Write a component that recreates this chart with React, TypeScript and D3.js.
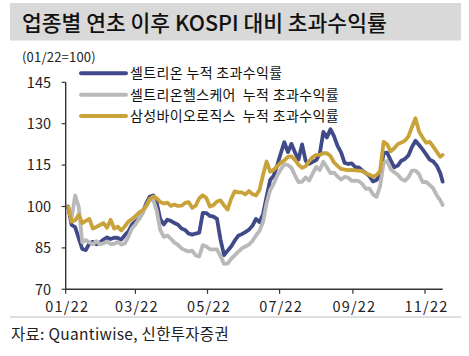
import React from 'react';
import * as d3 from 'd3';

const dates = [
  "2022-01-03","2022-01-06","2022-01-09","2022-01-12","2022-01-15","2022-01-18","2022-01-21","2022-01-24","2022-01-27","2022-01-30",
  "2022-02-02","2022-02-05","2022-02-08","2022-02-11","2022-02-14","2022-02-17","2022-02-20","2022-02-23","2022-02-26",
  "2022-03-01","2022-03-04","2022-03-07","2022-03-10","2022-03-13","2022-03-16","2022-03-19","2022-03-22","2022-03-25","2022-03-28","2022-03-31",
  "2022-04-03","2022-04-06","2022-04-09","2022-04-12","2022-04-15","2022-04-18","2022-04-21","2022-04-24","2022-04-27","2022-04-30",
  "2022-05-03","2022-05-06","2022-05-09","2022-05-12","2022-05-15","2022-05-18","2022-05-21","2022-05-24","2022-05-27","2022-05-30",
  "2022-06-02","2022-06-05","2022-06-08","2022-06-11","2022-06-14","2022-06-17","2022-06-20","2022-06-23","2022-06-26","2022-06-29",
  "2022-07-02","2022-07-05","2022-07-08","2022-07-11","2022-07-14","2022-07-17","2022-07-20","2022-07-23","2022-07-26","2022-07-29",
  "2022-08-01","2022-08-04","2022-08-07","2022-08-10","2022-08-13","2022-08-16","2022-08-19","2022-08-22","2022-08-25","2022-08-28","2022-08-31",
  "2022-09-03","2022-09-06","2022-09-09","2022-09-12","2022-09-15","2022-09-18","2022-09-21","2022-09-24","2022-09-27","2022-09-30",
  "2022-10-03","2022-10-06","2022-10-09","2022-10-12","2022-10-15","2022-10-18","2022-10-21","2022-10-24","2022-10-27","2022-10-30",
  "2022-11-02","2022-11-05","2022-11-08","2022-11-11","2022-11-14","2022-11-16",
];

const celltrion = [
  100, 93.3, 92.5, 88.5, 84.6, 84.2, 86.6, 87.2, 86.3, 87,
  88, 88.8, 88.2, 88.7, 88.6, 88, 89.6, 90.9, 93.4,
  94.6, 95.6, 97.7, 101, 103.5, 104, 101.4, 95.5, 93.5, 95.2, 94.8,
  94, 93.4, 92, 91.5, 90.2, 89.8, 90.2, 90.5, 97.7, 97.6,
  96.6, 96.3, 95.5, 88, 82.4, 84, 85.5, 87.6, 89.4, 90,
  90.7, 91.6, 93, 95.5, 94.3, 97.3, 103.6, 109.6, 111.2, 115,
  119.3, 123.3, 119.7, 122.7, 119.6, 117, 122.5, 116.6, 115.5, 116.2,
  116.8, 119.2, 127, 125, 128, 125.5, 122, 119.6, 115.8, 115.4, 115.6,
  114.3, 114.2, 113, 112.1, 111, 109.1, 109.6, 111.6, 119.4, 119.5,
  116.7, 114.2, 114.8, 116.6, 117.2, 118.5, 121.6, 123.8, 122.3, 120.7,
  118.9, 117, 116.3, 114.8, 112, 109,
];

const healthcare = [
  100, 95.7, 104, 100, 87, 87.8, 87, 86.3, 87.4, 86.3,
  86.7, 87.3, 86.4, 86.5, 87.2, 86.2, 86.6, 89, 92,
  93.5, 95.5, 97.9, 100.1, 102.2, 102.5, 98.5, 91.5, 89, 89.5, 88.3,
  86.9, 86.1, 84.8, 84.2, 83.7, 84, 82.3, 81.9, 86, 85.5,
  84.5, 84.5, 84.5, 82, 79.2, 79.3, 81, 82.3, 83.6, 84.8,
  85.5, 86.2, 87.5, 89.5, 91.2, 94.5, 101.2, 106, 108.2, 111.2,
  113.4, 115.3, 115, 114, 111.3, 108.8, 109, 110.5, 109.4, 112,
  114.3, 113.2, 116.2, 114.2, 112.1, 112.3, 110.9, 109.8, 110.7, 110.5, 109.3,
  109.4, 109.2, 108.1, 106.4, 106.5, 104.4, 103.5, 107.3, 115.8, 116.5,
  113.5, 112.4, 111.5, 110, 109.3, 110.6, 113, 113, 111.7, 108.8,
  108.9, 107.8, 106.6, 104, 102.2, 100.5,
];

const samsungBio = [
  100, 94.5, 95, 97, 94, 94.8, 95.5, 92, 92.6, 93.3,
  94, 92.3, 95.2, 92, 92.7, 91.3, 92.8, 94.5, 95.4,
  96.5, 97.8, 98.6, 100.2, 102.7, 103.6, 103, 101.6, 101.1, 101.4, 100.2,
  100.7, 100.2, 100.3, 101.3, 101.6, 99.5, 100.3, 103, 104.1, 103.1,
  100, 100.5, 101.8, 102.2, 100.4, 98.9, 102.8, 105.5, 105.1, 105.1,
  104.4, 105.6, 104.5, 104, 106, 111.5, 116.3, 112.6, 113.3, 114.6,
  115.9, 116.7, 118, 118.2, 116.9, 115.2, 114, 114.6, 116.5, 117.9,
  118.7, 118.7, 119.3, 119.3, 118.3, 116, 114.7, 113.6, 113.4, 113.2, 113.3,
  113.1, 113, 112.8, 112.1, 111.5, 110.8, 111.4, 112.8, 123.4, 122.5,
  120, 121.1, 122.6, 123.2, 123.8, 125.4, 128.8, 132, 127.2, 125,
  123.1, 123.4, 121.7, 119.8, 118, 118.7,
];

const seriesNames = [
  "셀트리온 누적 초과수익률",
  "셀트리온헬스케어  누적 초과수익률",
  "삼성바이오로직스  누적 초과수익률",
];
const seriesColors = ["#404a88", "#b9b9b9", "#c9a23a"];

const yTicks = [70, 85, 100, 115, 130, 145];
const xTickDates = ["2022-01-01", "2022-03-01", "2022-05-01", "2022-07-01", "2022-09-01", "2022-11-01"];
const xDomain = ["2022-01-01", "2022-11-16"];

const titleText = "업종별 연초 이후 KOSPI 대비 초과수익률";
const unitText = "(01/22=100)";
const sourceText = "자료: Quantiwise, 신한투자증권";

const FONT = "'Noto Sans CJK KR', 'Noto Sans', sans-serif";

export default function App() {
  const W = 469, H = 356;
  const parse = d3.timeParse("%Y-%m-%d");
  const parsed = dates.map((d) => parse(d) as Date);
  const x = d3.scaleTime()
    .domain(xDomain.map((d) => parse(d) as Date))
    .range([65.7, 442.7]);
  const y = d3.scaleLinear().domain([70, 145]).range([289.3, 82.3]);
  const fmt = d3.timeFormat("%m/%y");

  const line = d3.line<number>()
    .x((_, i) => x(parsed[i]))
    .y((d) => y(d))
    .curve(d3.curveLinear);

  const series = [celltrion, healthcare, samsungBio];
  const x0 = x.range()[0], x1 = x.range()[1];
  const yBottom = y(70), yTop = y(145);

  return (
    <svg width={W} height={H} style={{ position: 'absolute', left: 0, top: 0, background: '#fff' }}
      fontFamily={FONT}>
      <rect x={0} y={0} width={W} height={H} fill="#fff" />
      <rect x={10} y={3} width={451} height={37.5} fill="#d9d9d9" />
      <text x={22} y={30.5} fontSize={21.5} fontWeight={500} fill="#111">{titleText}</text>
      <text x={22} y={62} fontSize={13} fill="#222" letterSpacing={0.2}>{unitText}</text>

      {/* series */}
      {series.map((s, k) => (
        <path key={k} d={line(s) || ''} fill="none" stroke={seriesColors[k]} strokeWidth={3.8}
          strokeLinejoin="round" strokeLinecap="round" />
      ))}

      {/* y axis */}
      <line x1={x0} x2={x0} y1={yTop} y2={yBottom} stroke="#333" strokeWidth={1.4} />
      {yTicks.map((t) => (
        <g key={t}>
          <line x1={x0 - 4} x2={x0} y1={y(t)} y2={y(t)} stroke="#333" strokeWidth={1.2} />
          <text x={51} y={y(t)} dy="0.36em" textAnchor="end" fontSize={14.5} fill="#222">{t}</text>
        </g>
      ))}

      {/* x axis */}
      <line x1={x0} x2={x1} y1={yBottom} y2={yBottom} stroke="#333" strokeWidth={1.4} />
      {xTickDates.map((d) => {
        const dt = parse(d) as Date;
        return (
          <g key={d}>
            <line x1={x(dt)} x2={x(dt)} y1={yBottom} y2={yBottom + 4.5} stroke="#333" strokeWidth={1.2} />
            <text x={x(dt) + 1.5} y={312} textAnchor="middle" fontSize={14.5} letterSpacing={1.2} fill="#222">{fmt(dt)}</text>
          </g>
        );
      })}

      {/* legend */}
      {seriesNames.map((n, k) => {
        const ly = 73.3 + k * 21.4;
        return (
          <g key={n}>
            <line x1={81} x2={126} y1={ly} y2={ly} stroke={seriesColors[k]} strokeWidth={4} strokeLinecap="round" />
            <text x={130} y={ly} dy="0.35em" fontSize={14} letterSpacing={0.35} fill="#111" style={{ whiteSpace: 'pre' }}>{n}</text>
          </g>
        );
      })}

      {/* footer */}
      <line x1={10} x2={461} y1={317} y2={317} stroke="#bfbfbf" strokeWidth={1.2} />
      <text x={11} y={340} fontSize={15.5} letterSpacing={0.3} fill="#222">{sourceText}</text>
    </svg>
  );
}
